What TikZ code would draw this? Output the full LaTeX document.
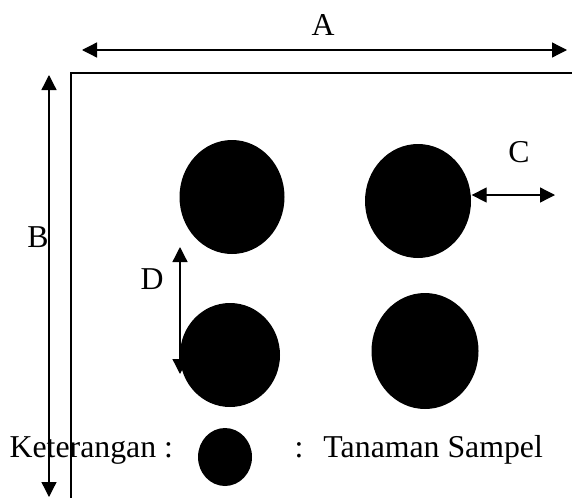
\documentclass[tikz,border=0pt]{standalone}
\usepackage{fontspec}
\setmainfont{Liberation Serif}
\usetikzlibrary{arrows.meta,shapes.geometric}

\begin{document}
\begin{tikzpicture}[x=1pt, y=-1pt, line width=1.3pt, font=\fontsize{31.8}{36}\selectfont,
  plant/.style={ellipse, fill=black, inner sep=0pt},
  lbl/.style={inner sep=0pt},
  dim/.style={{Triangle[length=15pt,width=15pt]}-{Triangle[length=15pt,width=15pt]}}]
\useasboundingbox (0,0) rectangle (572,498);
% plot border
\draw (572,73) -- (71,73) -- (71,498);
% sample plants
\node[plant, minimum width=105pt, minimum height=114pt] (p11) at (232,197) {};
\node[plant, minimum width=106pt, minimum height=114pt] (p12) at (418,201) {};
\node[plant, minimum width=100pt, minimum height=104pt] (p21) at (230,355) {};
\node[plant, minimum width=107pt, minimum height=116pt] (p22) at (425,351) {};
% dimension arrows
\coordinate (a1) at (82,50);
\coordinate (a2) at (567,50);
\coordinate (b1) at (49,75);
\coordinate (b2) at (49,497);
\coordinate (c2) at (555,195);
\coordinate (d1) at (180,247);
\coordinate (d2) at (180,374);
\draw[dim] (a1) -- (a2);
\draw[dim] (b1) -- (b2);
\draw[dim] (p12.east |- c2) -- (c2);
\draw[dim] (d1) -- (d2);
\node[lbl] (la) at (323,25) {A};
\node[lbl] (lb) at (38,237) {B};
\node[lbl] (lc) at (519,152) {C};
\node[lbl] (ld) at (152,279) {D};
% legend
\node[lbl, anchor=base west] (ket) at (9,457) {Keterangan :};
\node[plant, minimum width=54pt, minimum height=58pt] (legend) at (225,457) {};
\node[lbl, anchor=base west] (desc) at (294,457) {:\hspace{20pt}Tanaman Sampel};
\end{tikzpicture}
\end{document}
